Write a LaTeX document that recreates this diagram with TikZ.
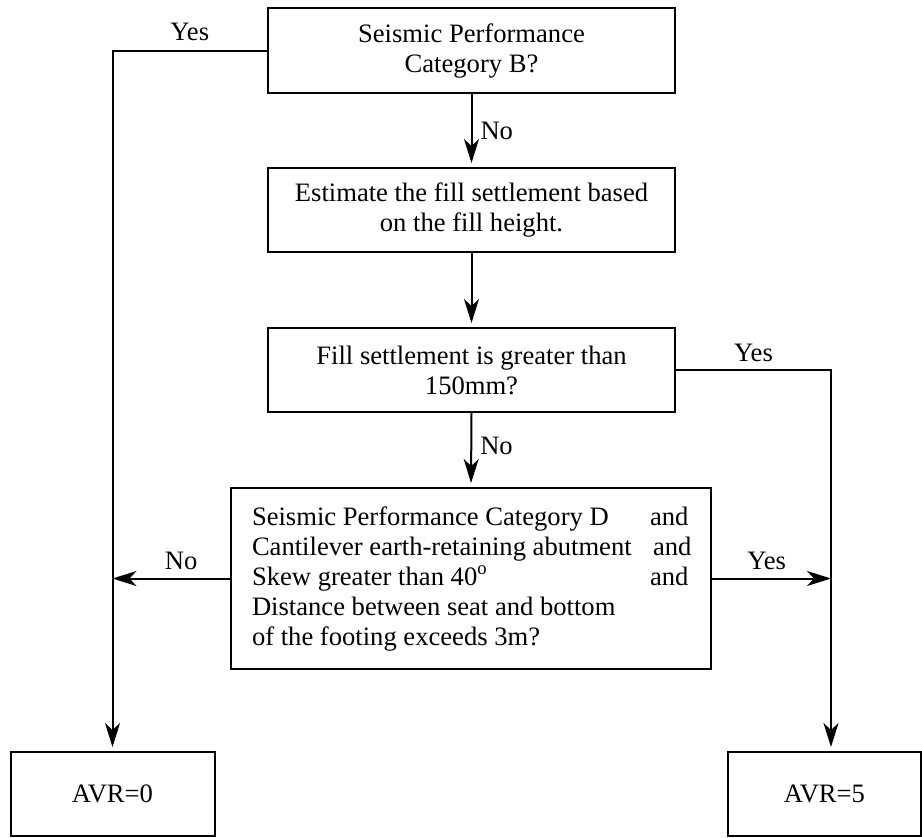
\documentclass[tikz,border=0pt]{standalone}
\usepackage{fontspec}
\setmainfont{Liberation Serif}
\usetikzlibrary{arrows.meta}
\begin{document}
\begin{tikzpicture}[x=0.5pt,y=-0.5pt,
  font=\fontsize{13.3pt}{15pt}\selectfont,
  box/.style={draw, line width=1pt, rectangle, inner sep=0pt, align=center},
  headshape/.style={-{Stealth[length=12pt,width=7.5pt,inset=3.5pt]}},
  flow/.style={draw, line width=1pt, headshape, shorten >=2pt},
  sidearrow/.style={draw, line width=1pt, headshape},
  lbl/.style={inner sep=1pt}]
\useasboundingbox (0,0) rectangle (922,837);

% decision and process boxes
\node[box, minimum width=203.5pt, minimum height=42.5pt] (q1) at (471.5,50.5)
  {Seismic Performance\\Category B?};
\node[box, minimum width=203.5pt, minimum height=42pt] (est) at (471.5,210)
  {Estimate the fill settlement based\\on the fill height.};
\node[box, minimum width=203.5pt, minimum height=42pt] (q2) at (471.5,370)
  {Fill settlement is greater than\\150mm?};
\node[box, minimum width=240pt, minimum height=90.5pt, text width=219pt,
      inner xsep=10.5pt, align=flush left] (q3) at (471,578.5)
  {\makebox[199pt][l]{Seismic Performance Category D}and\\
   \makebox[200.5pt][l]{Cantilever earth-retaining abutment}and\\
   \makebox[199pt][l]{Skew greater than 40\textsuperscript{o}}and\\
   Distance between seat and bottom\\
   of the footing exceeds 3m?};

% results
\node[box, minimum width=102pt, minimum height=42pt] (a0) at (112.5,794) {AVR=0};
\node[box, minimum width=96.5pt, minimum height=42pt] (a5) at (824.5,794) {AVR=5};

% junctions on the two side lines
\coordinate (jL) at (a0.north |- q3.west);
\coordinate (jR) at (831,578.5);

% connectors
\draw[flow] (q1.west) -- node[lbl, above=3.5pt] {Yes} (q1.west -| a0.north) -- (a0.north);
\draw[flow] (q1.south) -- node[lbl, right=3pt] {No} (est.north);
\draw[flow] (est.south) -- (q2.north);
\draw[flow] (q2.east) -- node[lbl, above=2.5pt] {Yes} (q2.east -| jR) -- (jR |- a5.north);
\draw[flow] (q2.south) -- node[lbl, right=3pt, yshift=2pt] {No} (q3.north);
\draw[sidearrow] (q3.west) -- node[lbl, pos=0.415, above=3pt] {No} (jL);
\draw[sidearrow] (q3.east) -- node[lbl, pos=0.46, above=3pt] {Yes} (jR);
\end{tikzpicture}
\end{document}
